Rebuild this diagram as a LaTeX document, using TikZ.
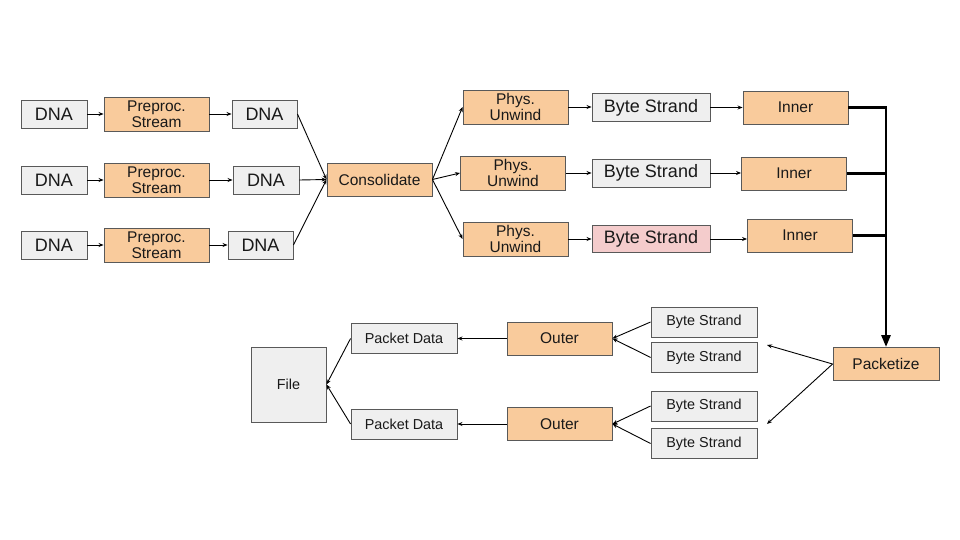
\documentclass[tikz,border=0pt]{standalone}
\usepackage{fontspec}
\setmainfont{Liberation Sans}
\usetikzlibrary{arrows.meta}
\definecolor{orfill}{HTML}{F9CB9C}
\definecolor{grfill}{HTML}{EFEFEF}
\definecolor{pkfill}{HTML}{F4CCCC}
\definecolor{bord}{HTML}{595959}
\tikzset{
  basebox/.style={draw=bord, line width=0.9pt, inner sep=0pt, align=center, text=black!90},
  gbox/.style={basebox, fill=grfill},
  obox/.style={basebox, fill=orfill},
  pbox/.style={basebox, fill=pkfill},
  bigtxt/.style={font=\fontsize{18}{19}\selectfont},
  midtxt/.style={font=\fontsize{15.5}{16}\selectfont},
  smtxt/.style={font=\fontsize{14.4}{15}\selectfont},
  conn/.style={draw=black, line width=0.9pt, -{Stealth[length=5pt,width=4pt]}},
  thick conn/.style={draw=black, line width=2.6pt},
}
\begin{document}
\begin{tikzpicture}[x=1pt,y=-1pt]
\useasboundingbox (0,0) rectangle (960,540);
% row 1
\node[gbox,bigtxt,minimum width=66pt,minimum height=28pt] (d11) at (54,114) {DNA};
\node[obox,midtxt,minimum width=105pt,minimum height=34pt] (p1) at (156.5,114) {Preproc.\\Stream};
\node[gbox,bigtxt,minimum width=65pt,minimum height=28pt] (d12) at (264.5,114) {DNA};
% row 2
\node[gbox,bigtxt,minimum width=66pt,minimum height=28pt] (d21) at (54,180) {DNA};
\node[obox,midtxt,minimum width=105pt,minimum height=34pt] (p2) at (156.5,180) {Preproc.\\Stream};
\node[gbox,bigtxt,minimum width=66pt,minimum height=28pt] (d22) at (266,180) {DNA};
% row 3
\node[gbox,bigtxt,minimum width=66pt,minimum height=28pt] (d31) at (54,245) {DNA};
\node[obox,midtxt,minimum width=105pt,minimum height=34pt] (p3) at (156.5,245) {Preproc.\\Stream};
\node[gbox,bigtxt,minimum width=65pt,minimum height=28pt] (d32) at (260.5,245) {DNA};
% consolidate
\node[obox,midtxt,minimum width=105pt,minimum height=33pt] (cons) at (379.5,179.5) {Consolidate};
% phys unwind
\node[obox,midtxt,minimum width=105pt,minimum height=34pt] (ph1) at (515.5,107) {Phys.\\Unwind};
\node[obox,midtxt,minimum width=105pt,minimum height=34pt] (ph2) at (513,173) {Phys.\\Unwind};
\node[obox,midtxt,minimum width=105pt,minimum height=34pt] (ph3) at (515.5,239) {Phys.\\Unwind};
% byte strands
\node[gbox,bigtxt,minimum width=118pt,minimum height=28pt] (bs1) at (651,107.5) {Byte Strand};
\node[gbox,bigtxt,minimum width=118pt,minimum height=28pt] (bs2) at (651,173) {Byte Strand};
\node[pbox,bigtxt,minimum width=118pt,minimum height=27pt] (bs3) at (651,239) {Byte Strand};
% inner
\node[obox,midtxt,minimum width=105pt,minimum height=33pt] (in1) at (795.5,107.5) {Inner};
\node[obox,midtxt,minimum width=105pt,minimum height=33pt] (in2) at (794,173.5) {Inner};
\node[obox,midtxt,minimum width=105pt,minimum height=33pt] (in3) at (800,235.5) {Inner};
% packetize
\node[obox,midtxt,minimum width=106pt,minimum height=33pt] (pk) at (886,364) {Packetize};
% lower byte strands
\node[gbox,smtxt,minimum width=106pt,minimum height=30pt] (lb1) at (704,322) {Byte Strand};
\node[gbox,smtxt,minimum width=106pt,minimum height=30pt] (lb2) at (704,357.5) {Byte Strand};
\node[gbox,smtxt,minimum width=106pt,minimum height=30pt] (lb3) at (704,406) {Byte Strand};
\node[gbox,smtxt,minimum width=106pt,minimum height=30pt] (lb4) at (704,443.5) {Byte Strand};
% outer
\node[obox,midtxt,minimum width=105pt,minimum height=33pt] (out1) at (559.5,338.5) {Outer};
\node[obox,midtxt,minimum width=105pt,minimum height=33pt] (out2) at (559.5,424) {Outer};
% packet data
\node[gbox,smtxt,minimum width=106pt,minimum height=30pt] (pd1) at (404,338.5) {Packet Data};
\node[gbox,smtxt,minimum width=106pt,minimum height=30pt] (pd2) at (404,424) {Packet Data};
% file
\node[gbox,smtxt,minimum width=75pt,minimum height=75pt] (file) at (288.5,384.5) {File};
% free ends
\coordinate (pkA) at (767,345);
\coordinate (pkB) at (767,424);
\coordinate (bus) at (886,107.5);
% connectors
\draw[conn] (d11.east) -- (p1.west);
\draw[conn] (d21.east) -- (p2.west);
\draw[conn] (d31.east) -- (p3.west);
\draw[conn] (p1.east) -- (d12.west);
\draw[conn] (p2.east) -- (d22.west);
\draw[conn] (p3.east) -- (d32.west);
\draw[conn] (d12.east) -- (cons.west);
\draw[conn] (d22.east) -- (cons.west);
\draw[conn] (d32.east) -- (cons.west);
\draw[conn] (cons.east) -- (ph1.west);
\draw[conn] (cons.east) -- (ph2.west);
\draw[conn] (cons.east) -- (ph3.west);
\draw[conn] (ph1.east) -- (ph1.east -| bs1.west);
\draw[conn] (ph2.east) -- (ph2.east -| bs2.west);
\draw[conn] (ph3.east) -- (ph3.east -| bs3.west);
\draw[conn] (bs1.east) -- (bs1.east -| in1.west);
\draw[conn] (bs2.east) -- (bs2.east -| in2.west);
\draw[conn] (bs3.east) -- (bs3.east -| in3.west);
\draw[thick conn] (in2.east) -- (in2.east -| bus);
\draw[thick conn] (in3.east) -- (in3.east -| bus);
\draw[thick conn, -{Triangle[length=12pt,width=9pt]}] (in1.east) -- (bus) -- (pk.north);
\draw[conn] (pk.west) -- (pkA);
\draw[conn] (pk.west) -- (pkB);
\draw[conn] (lb1.west) -- (out1.east);
\draw[conn] (lb2.west) -- (out1.east);
\draw[conn] (lb3.west) -- (out2.east);
\draw[conn] (lb4.west) -- (out2.east);
\draw[conn] (out1.west) -- (pd1.east);
\draw[conn] (out2.west) -- (pd2.east);
\draw[conn] (pd1.west) -- (file.east);
\draw[conn] (pd2.west) -- (file.east);
\end{tikzpicture}
\end{document}
